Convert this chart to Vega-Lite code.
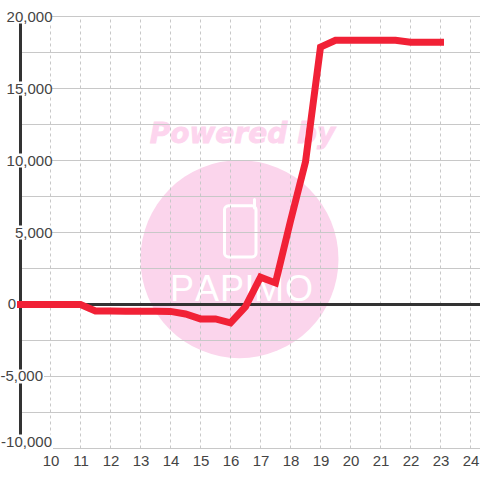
{"$schema":"https://vega.github.io/schema/vega-lite/v6.json","width":480,"height":480,"padding":0,"autosize":"none","background":"#ffffff","config":{"view":{"stroke":null},"axis":{"domain":false,"ticks":false,"grid":false,"title":null}},
"datasets":{
"series":[{"x":9,"y":0},{"x":9.5,"y":0},{"x":10,"y":0},{"x":10.5,"y":0},{"x":11,"y":0},{"x":11.5,"y":-450},{"x":12,"y":-460},{"x":12.5,"y":-470},{"x":13,"y":-470},{"x":13.5,"y":-470},{"x":14,"y":-480},{"x":14.5,"y":-660},{"x":15,"y":-1000},{"x":15.5,"y":-1000},{"x":16,"y":-1280},{"x":16.5,"y":-150},{"x":17,"y":1900},{"x":17.5,"y":1500},{"x":18,"y":5800},{"x":18.5,"y":9900},{"x":19,"y":17880},{"x":19.5,"y":18350},{"x":20,"y":18350},{"x":20.5,"y":18350},{"x":21,"y":18350},{"x":21.5,"y":18350},{"x":22,"y":18220},{"x":22.5,"y":18220},{"x":23,"y":18220}],
"hgrid":[{"x":9,"x2":24.3167,"y":-10000},{"x":9,"x2":24.3167,"y":-7500},{"x":9,"x2":24.3167,"y":-5000},{"x":9,"x2":24.3167,"y":-2500},{"x":9,"x2":24.3167,"y":2500},{"x":9,"x2":24.3167,"y":5000},{"x":9,"x2":24.3167,"y":7500},{"x":9,"x2":24.3167,"y":10000},{"x":9,"x2":24.3167,"y":12500},{"x":9,"x2":24.3167,"y":15000},{"x":9,"x2":24.3167,"y":17500},{"x":9,"x2":24.3167,"y":20000}],
"vgrid":[{"x":10,"y":-10000,"y2":20000},{"x":11,"y":-10000,"y2":20000},{"x":12,"y":-10000,"y2":20000},{"x":13,"y":-10000,"y2":20000},{"x":14,"y":-10000,"y2":20000},{"x":15,"y":-10000,"y2":20000},{"x":16,"y":-10000,"y2":20000},{"x":17,"y":-10000,"y2":20000},{"x":18,"y":-10000,"y2":20000},{"x":19,"y":-10000,"y2":20000},{"x":20,"y":-10000,"y2":20000},{"x":21,"y":-10000,"y2":20000},{"x":22,"y":-10000,"y2":20000},{"x":23,"y":-10000,"y2":20000},{"x":24,"y":-10000,"y2":20000}],
"labelBg":[{"x":8.517,"x2":10.05,"y":20490,"y2":19510},{"x":8.517,"x2":10.05,"y":15490,"y2":14510},{"x":8.517,"x2":10.05,"y":10490,"y2":9510},{"x":8.783,"x2":10.05,"y":5490,"y2":4510},{"x":8.383,"x2":9.783,"y":-4510,"y2":-5490},{"x":8.383,"x2":10.083,"y":-9028,"y2":-10100}],
"lowLabels":[{"x":8.85,"y":0,"t":"0"},{"x":9.75,"y":-5000,"t":"-5,000"},{"x":10.05,"y":-9514,"t":"-10,000"}],
"logo":[{"x":14.38,"y":1000,"t":"P"},{"x":15.217,"y":1000,"t":"A"},{"x":16.05,"y":1000,"t":"P"},{"x":16.63,"y":1000,"t":"I"},{"x":17.283,"y":1000,"t":"M"},{"x":18.28,"y":1000,"t":"O"}]},
"encoding":{"x":{"field":"x","type":"quantitative","title":null,"scale":{"domain":[8.3167,24.3167],"nice":false,"zero":false},"axis":{"values":[10,11,12,13,14,15,16,17,18,19,20,21,22,23,24],"orient":"bottom","offset":-31,"labelPadding":4,"labelFont":"Liberation Sans","labelFontSize":15,"labelColor":"#444444","labelOverlap":false,"format":"d","title":null}},"y":{"field":"y","type":"quantitative","title":null,"scale":{"domain":[-12187.5,21145.8],"nice":false,"zero":false},"axis":{"values":[5000,10000,15000,20000],"orient":"left","labelPadding":-52,"zindex":1,"labelFont":"Liberation Sans","labelFontSize":15,"labelColor":"#444444","format":",d","labelOverlap":false,"labelBound":false,"title":null}}},
"layer":[
{"data":{"values":[{"x":16.3,"y":3150}]},"mark":{"type":"point","filled":true,"opacity":1,"color":"#fbd5ec","size":39200}},
{"data":{"values":[{"x":16.4,"y":11800,"t":"Powered by"}]},"mark":{"type":"text","font":"DejaVu Sans","fontWeight":"bold","fontStyle":"italic","fontSize":28,"color":"#fdd5ee","stroke":"#fdd5ee","strokeWidth":0.8},"encoding":{"text":{"field":"t"}}},
{"data":{"values":[{"x":15.8,"x2":16.85,"y":6850,"y2":3300}]},"mark":{"type":"rect","fillOpacity":0,"stroke":"#ffffff","strokeWidth":3,"cornerRadius":4},"encoding":{"x2":{"field":"x2"},"y2":{"field":"y2"}}},
{"data":{"values":[{"x":16.8,"y":7300,"y2":6700}]},"mark":{"type":"rule","stroke":"#ffffff","strokeWidth":3,"strokeCap":"round"},"encoding":{"y2":{"field":"y2"}}},
{"data":{"name":"logo"},"mark":{"type":"text","font":"Liberation Sans","fontSize":36,"color":"#ffffff"},"encoding":{"text":{"field":"t"}}},
{"data":{"name":"hgrid"},"mark":{"type":"rule","stroke":"#c8c8c8","strokeWidth":1},"encoding":{"x2":{"field":"x2"}}},
{"data":{"name":"vgrid"},"mark":{"type":"rule","stroke":"#c8c8c8","strokeWidth":1,"strokeDash":[3,3]},"encoding":{"y2":{"field":"y2"}}},
{"data":{"values":[{"x":9,"y":-10000,"y2":20000}]},"mark":{"type":"rule","stroke":"#333333","strokeWidth":3},"encoding":{"y2":{"field":"y2"}}},
{"data":{"values":[{"x":9,"x2":24.3167,"y":0}]},"mark":{"type":"rule","stroke":"#333333","strokeWidth":3},"encoding":{"x2":{"field":"x2"}}},
{"data":{"name":"labelBg"},"mark":{"type":"rect","fill":"#ffffff"},"encoding":{"x2":{"field":"x2"},"y2":{"field":"y2"}}},
{"data":{"name":"lowLabels"},"mark":{"type":"text","align":"right","baseline":"middle","font":"Liberation Sans","fontSize":15,"color":"#444444"},"encoding":{"text":{"field":"t"}}},
{"data":{"name":"series"},"mark":{"type":"line","stroke":"#f12136","strokeWidth":7,"strokeCap":"square","strokeJoin":"miter"}}
]}
